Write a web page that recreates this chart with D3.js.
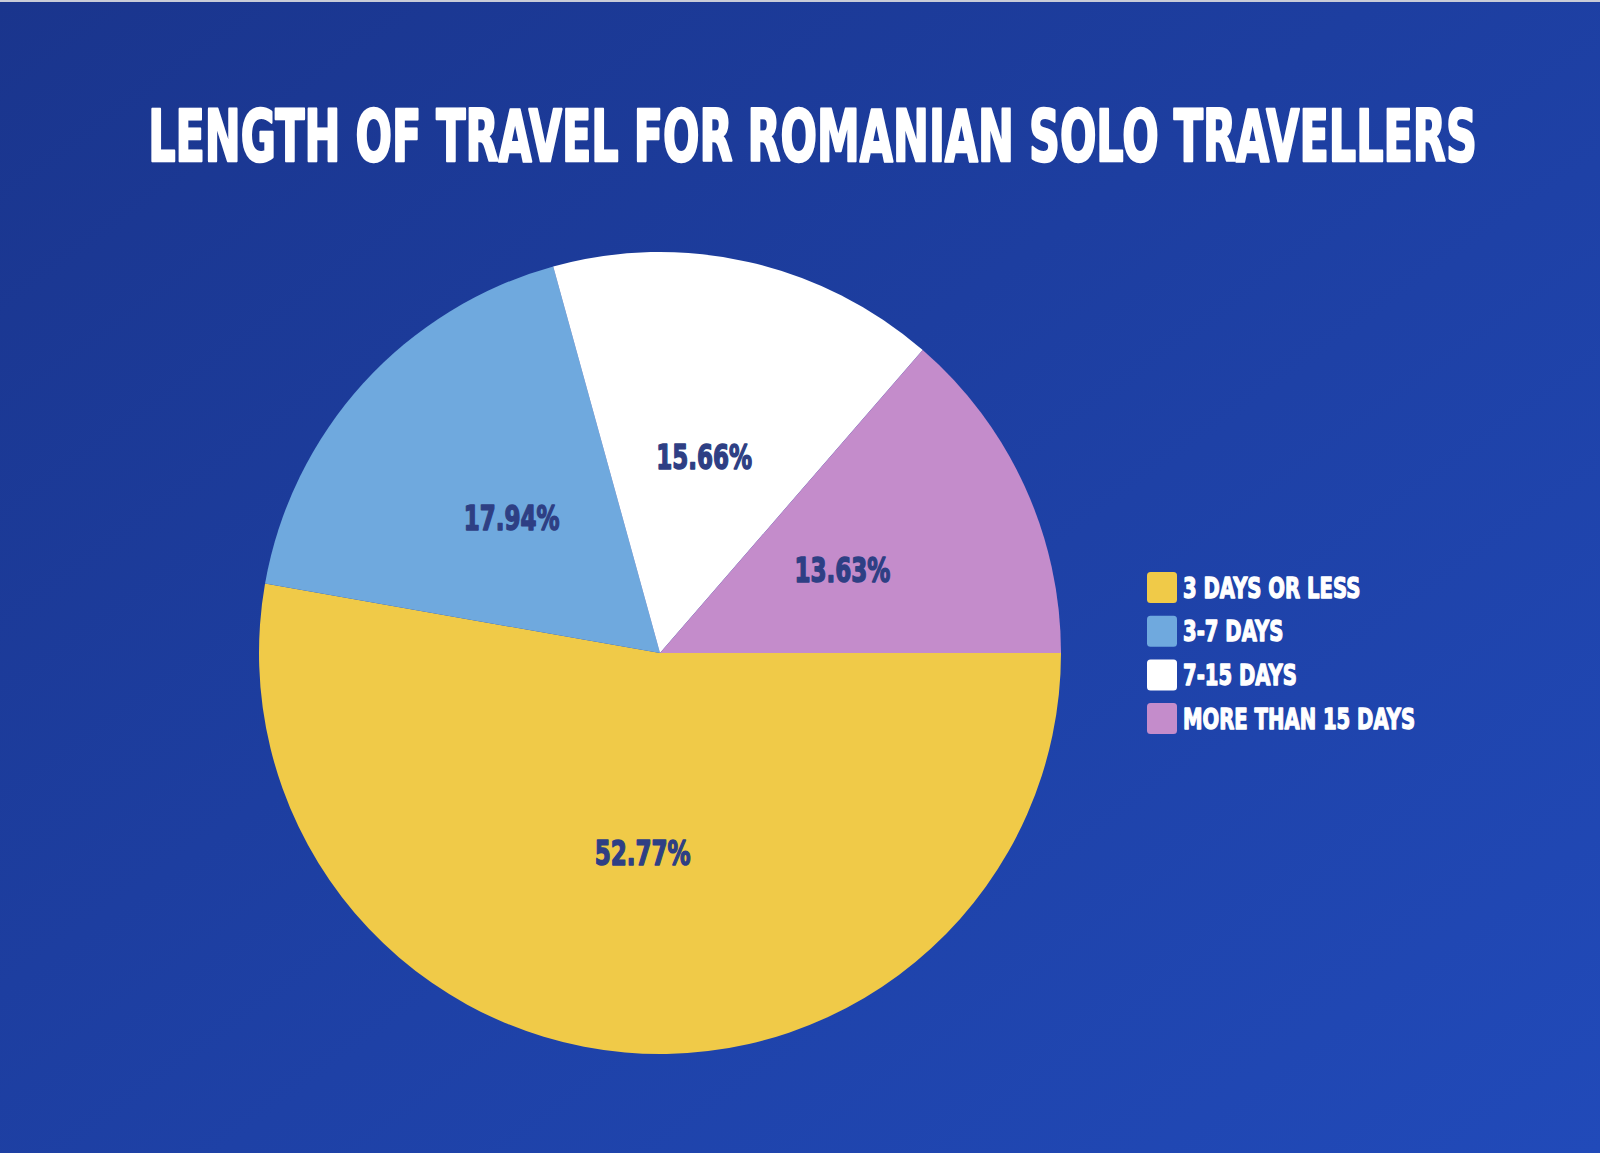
<!DOCTYPE html>
<html>
<head>
<meta charset="utf-8">
<script src="https://cdn.jsdelivr.net/npm/d3@7"></script>
<style>
  html, body { margin: 0; padding: 0; background: #1c3a9a; }
  svg { display: block; }
</style>
</head>
<body>
<svg id="chart" width="1600" height="1153"></svg>
<script>
// ---- data ----
const titleText = "LENGTH OF TRAVEL FOR ROMANIAN SOLO TRAVELLERS";
const categories = ["3 DAYS OR LESS", "3-7 DAYS", "7-15 DAYS", "MORE THAN 15 DAYS"];
const values = [52.77, 17.94, 15.66, 13.63];
const colors = ["#f0ca48", "#6fa9de", "#ffffff", "#c48ccb"];

// ---- layout ----
const W = 1600, H = 1153;
const cx = 660, cy = 653, R = 401;
const FONT = "'DejaVu Sans', 'DejaVu Sans Condensed', sans-serif";

const svg = d3.select("#chart");

// background gradient
const defs = svg.append("defs");
const grad = defs.append("linearGradient")
  .attr("id", "bg").attr("x1", "0%").attr("y1", "0%").attr("x2", "100%").attr("y2", "100%");
grad.append("stop").attr("offset", "0%").attr("stop-color", "#1a358d");
grad.append("stop").attr("offset", "100%").attr("stop-color", "#214ab9");
svg.append("rect").attr("width", W).attr("height", H).attr("fill", "url(#bg)");
svg.append("rect").attr("width", W).attr("height", 2).attr("fill", "#c9ccd8");

// pie
const pie = d3.pie().sort(null).value(d => d)
  .startAngle(Math.PI / 2).endAngle(Math.PI / 2 + 2 * Math.PI);
const arc = d3.arc().innerRadius(0).outerRadius(R);
const arcs = pie(values);

const g = svg.append("g").attr("transform", `translate(${cx},${cy})`);
g.selectAll("path.slice").data(arcs).join("path")
  .attr("class", "slice")
  .attr("d", arc)
  .attr("fill", (d, i) => colors[i]);

// title (heavy font condensed horizontally)
const titleG = svg.append("g");
const title = titleG.append("text")
  .attr("text-anchor", "middle")
  .attr("font-family", FONT).attr("font-weight", "bold")
  .attr("font-size", 71)
  .attr("fill", "#ffffff").attr("stroke", "#ffffff").attr("stroke-width", 2.6)
  .attr("stroke-linejoin", "round")
  .text(titleText);
const natural = title.node().getComputedTextLength();
const factor = 1329 / natural;
titleG.attr("transform", `translate(812.5,161) scale(${factor},1)`);

// slice labels
const lblFactor = factor * 1.12;
g.selectAll("g.lbl").data(arcs).join("g")
  .attr("class", "lbl")
  .attr("transform", d => { const c = arc.centroid(d); return `translate(${c[0]},${c[1] + 12}) scale(${lblFactor},1)`; })
  .append("text")
  .attr("text-anchor", "middle")
  .attr("font-family", FONT).attr("font-weight", "bold")
  .attr("font-size", 34)
  .attr("fill", "#2e3f84").attr("stroke", "#2e3f84").attr("stroke-width", 1.6)
  .attr("stroke-linejoin", "round")
  .text(d => d.value.toFixed(2) + "%");

// legend
const legFactor = factor * 1.14;
const legend = svg.append("g").attr("transform", "translate(1147,572)");
const rowH = 43.7;
const items = legend.selectAll("g.item").data(categories).join("g")
  .attr("class", "item")
  .attr("transform", (d, i) => `translate(0,${i * rowH})`);
items.append("rect")
  .attr("width", 30).attr("height", 31).attr("rx", 3.5)
  .attr("fill", (d, i) => colors[i]);
items.append("g")
  .attr("transform", `translate(36,25.5) scale(${legFactor},1)`)
  .append("text")
  .attr("font-family", FONT).attr("font-weight", "bold")
  .attr("font-size", 28.5)
  .attr("fill", "#ffffff").attr("stroke", "#ffffff").attr("stroke-width", 1.4)
  .attr("stroke-linejoin", "round")
  .text(d => d);
</script>
</body>
</html>
